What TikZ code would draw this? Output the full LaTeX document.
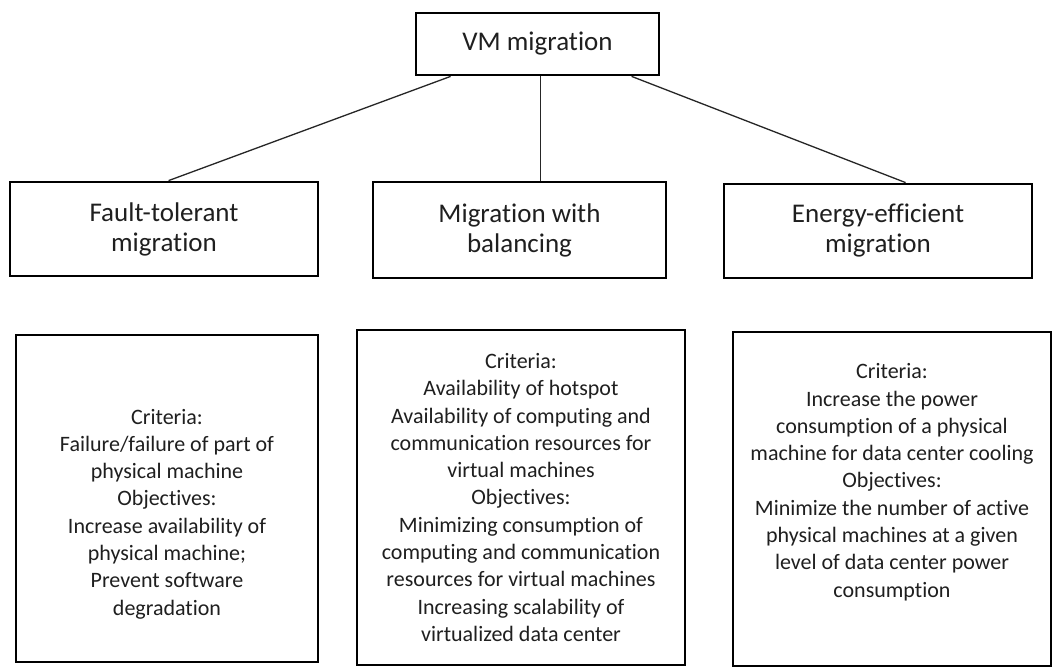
\documentclass[tikz,border=0pt]{standalone}
\usepackage{fontspec}
\setmainfont{Carlito}[Ligatures={NoCommon}]
\begin{document}
\begin{tikzpicture}[x=1pt,y=-1pt,
  box/.style={draw=black,line width=2.8pt,rectangle,inner sep=0pt,align=center,text=black!88},
  head/.style={box,font=\fontsize{27}{30}\selectfont},
  body/.style={box,font=\fontsize{22}{27.3}\selectfont},
  conn/.style={draw=black!85,line width=1.3pt}]
\useasboundingbox[fill=white] (0,0) rectangle (1054,668);
\node[head,minimum width=243pt,minimum height=62pt] (top) at (537.5,44) {VM migration};
\node[head,minimum width=308pt,minimum height=94pt] (L1) at (164,229) {Fault-tolerant\\migration};
\node[head,minimum width=293pt,minimum height=96pt] (M1) at (519.5,230) {Migration with\\balancing};
\node[head,minimum width=308pt,minimum height=94pt] (R1) at (878,231) {Energy-efficient\\migration};
\node[body,minimum width=302pt,minimum height=327pt] (L2) at (167,498.5) {\rule{0pt}{46pt}Criteria:\\Failure/failure of part of\\physical machine\\Objectives:\\Increase availability of\\physical machine;\\Prevent software\\degradation};
\node[body,minimum width=328pt,minimum height=335pt] (M2) at (521,497.5) {Criteria:\\Availability of hotspot\\Availability of computing and\\communication resources for\\virtual machines\\Objectives:\\Minimizing consumption of\\computing and communication\\resources for virtual machines\\Increasing scalability of\\virtualized data center};
\node[body,minimum width=318pt,minimum height=334pt] (R2) at (892,499) {Criteria:\\Increase the power\\consumption of a physical\\machine for data center cooling\\Objectives:\\Minimize the number of active\\physical machines at a given\\level of data center power\\consumption\\[10pt]};
\draw[conn] ([xshift=36pt]top.south west) -- ([xshift=160pt]L1.north west);
\draw[conn] ([xshift=126pt]top.south west) -- ([xshift=169pt]M1.north west);
\draw[conn] ([xshift=217pt]top.south west) -- ([xshift=183pt]R1.north west);
\end{tikzpicture}
\end{document}
